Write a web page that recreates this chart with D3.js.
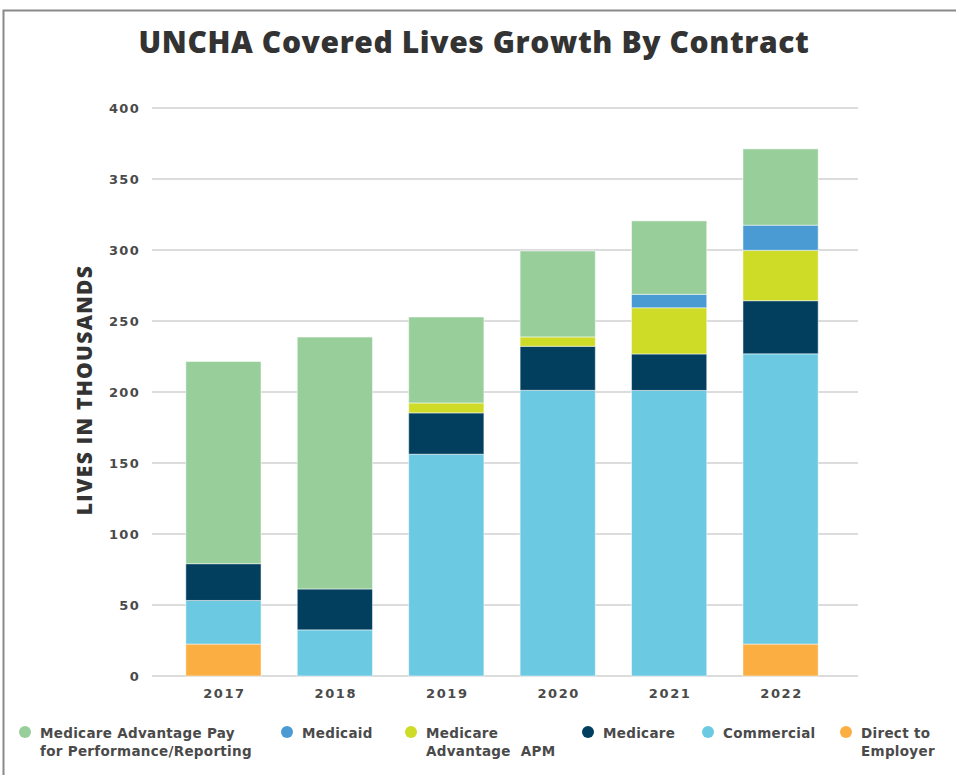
<!DOCTYPE html>
<html><head><meta charset="utf-8">
<script src="https://cdn.jsdelivr.net/npm/d3@7"></script>
<style>html,body{margin:0;padding:0;background:#fff;}</style>
</head><body>
<svg id="chart" width="956" height="775"></svg>
<script>
const years = ["2017","2018","2019","2020","2021","2022"];
const seriesNames = ["Direct to Employer","Commercial","Medicare","Medicare Advantage APM","Medicaid","Medicare Advantage Pay for Performance/Reporting"];
const directToEmployer = [22.5, 0, 0, 0, 0, 22.5];
const commercial = [30.7, 32.5, 156.2, 201.2, 201.1, 204.4];
const medicare = [25.9, 28.8, 29.1, 31.0, 25.7, 37.4];
const medicareAdvantageAPM = [0, 0, 7.0, 6.6, 32.5, 35.5];
const medicaid = [0, 0, 0, 0, 9.5, 17.7];
const maPayForPerformance = [142.4, 177.4, 60.5, 60.5, 51.7, 53.7];
const yTicks = [0, 50, 100, 150, 200, 250, 300, 350, 400];
const colors = ["#FBAE42","#6BCAE2","#023F5F","#CEDB27","#4A9BD3","#97CE9A"];
const legendOrder = [5,4,3,2,1,0];
const legendLabels = [["Medicare Advantage Pay","for Performance/Reporting"],["Medicaid"],["Medicare","Advantage  APM"],["Medicare"],["Commercial"],["Direct to","Employer"]];

const svg = d3.select("#chart");
const font = "'Open Sans', sans-serif";
const numFont = "'DejaVu Sans', sans-serif";

// frame
svg.append("rect").attr("x",3.5).attr("y",10.5).attr("width",960).attr("height",780)
  .attr("fill","none").attr("stroke","#8a8a8a").attr("stroke-width",2);

const valuesBySeries = [directToEmployer, commercial, medicare, medicareAdvantageAPM, medicaid, maPayForPerformance];
const rows = years.map((y,i)=>{ const r={year:y}; seriesNames.forEach((s,k)=>r[s]=valuesBySeries[k][i]); return r; });
const stacked = d3.stack().keys(seriesNames)(rows);

const x = d3.scaleBand().domain(years).range([168, 836]).paddingInner(0.325).paddingOuter(0.16);
const y = d3.scaleLinear().domain([0,400]).range([676,108]);

// gridlines
svg.append("g").selectAll("line").data(yTicks).join("line")
  .attr("x1",152).attr("x2",858).attr("y1",d=>y(d)).attr("y2",d=>y(d))
  .attr("stroke","#dcdcdc").attr("stroke-width",2);

// y axis labels
const yAxis = d3.axisLeft(y).tickValues(yTicks).tickSize(0).tickPadding(0);
const ya = svg.append("g").attr("transform","translate(140,0)").call(yAxis);
ya.select(".domain").remove();
ya.selectAll("text").attr("font-family",numFont).attr("font-size",13).attr("font-weight",700)
  .attr("fill","#4a4a4a").attr("letter-spacing","1.3px");

// bars
svg.append("g").selectAll("g").data(stacked).join("g")
  .attr("fill",(d,i)=>colors[i])
  .selectAll("rect").data(d=>d.filter(p=>p[1]-p[0]>0)).join("rect")
  .attr("x",d=>x(d.data.year)).attr("width",x.bandwidth())
  .attr("y",d=>y(d[1])).attr("height",d=>y(d[0])-y(d[1]))
  .attr("stroke","rgba(255,255,255,0.5)").attr("stroke-width",1);

// x axis
const xAxis = d3.axisBottom(x).tickSize(0).tickPadding(0);
const xa = svg.append("g").attr("transform","translate(1,698)").call(xAxis);
xa.select(".domain").remove();
xa.selectAll("text").attr("font-family",numFont).attr("font-size",13).attr("font-weight",700)
  .attr("fill","#4a4a4a").attr("dy","0").attr("letter-spacing","1.6px");

// title
svg.append("text").attr("x",474).attr("y",53).attr("text-anchor","middle")
  .attr("font-family",font).attr("font-size",30).attr("font-weight",800).attr("fill","#333")
  .attr("letter-spacing","0.6px")
  .text("UNCHA Covered Lives Growth By Contract");

// y axis title
svg.append("text").attr("transform","translate(92,390) rotate(-90)").attr("text-anchor","middle")
  .attr("font-family",font).attr("font-size",21).attr("font-weight",800).attr("fill","#333")
  .attr("letter-spacing","1.3px")
  .text("LIVES IN THOUSANDS");

// legend
const legendX = [25, 287, 411, 588, 708, 846];
const lg = svg.append("g");
legendOrder.forEach((si,j)=>{
  const g = lg.append("g").attr("transform",`translate(${legendX[j]},0)`);
  g.append("circle").attr("cx",0).attr("cy",732).attr("r",6).attr("fill",colors[si]);
  legendLabels[j].forEach((line,li)=>{
    g.append("text").attr("x",15).attr("y",738 + li*18).attr("font-family",numFont)
      .attr("font-size",13.5).attr("font-weight",700).attr("fill","#4a4a4a")
      .attr("letter-spacing","0.3px").attr("xml:space","preserve").text(line);
  });
});
</script>
</body></html>
